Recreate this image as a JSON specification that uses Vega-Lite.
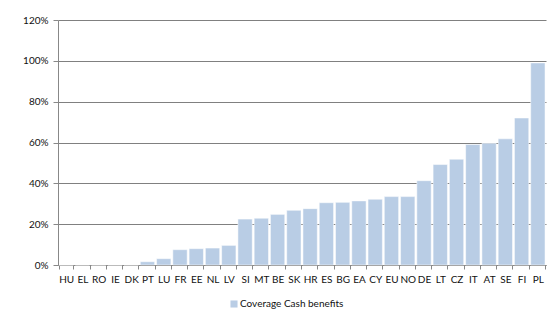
{
  "$schema": "https://vega.github.io/schema/vega-lite/v6.json",
  "width": 488,
  "height": 245,
  "autosize": {"type": "none"},
  "padding": {"left": 58, "top": 20, "right": 9, "bottom": 55},
  "background": "white",
  "data": {
    "values": [
      {"country": "HU", "value": 0},
      {"country": "EL", "value": 0},
      {"country": "RO", "value": 0},
      {"country": "IE", "value": 0},
      {"country": "DK", "value": 0},
      {"country": "PT", "value": 0.016},
      {"country": "LU", "value": 0.031},
      {"country": "FR", "value": 0.075},
      {"country": "EE", "value": 0.08},
      {"country": "NL", "value": 0.083},
      {"country": "LV", "value": 0.096},
      {"country": "SI", "value": 0.225},
      {"country": "MT", "value": 0.229},
      {"country": "BE", "value": 0.248},
      {"country": "SK", "value": 0.268},
      {"country": "HR", "value": 0.276},
      {"country": "ES", "value": 0.305},
      {"country": "BG", "value": 0.307},
      {"country": "EA", "value": 0.314},
      {"country": "CY", "value": 0.322},
      {"country": "EU", "value": 0.335},
      {"country": "NO", "value": 0.335},
      {"country": "DE", "value": 0.413},
      {"country": "LT", "value": 0.492},
      {"country": "CZ", "value": 0.518},
      {"country": "IT", "value": 0.59},
      {"country": "AT", "value": 0.596},
      {"country": "SE", "value": 0.618},
      {"country": "FI", "value": 0.72},
      {"country": "PL", "value": 0.99}
    ]
  },
  "transform": [{"calculate": "'Coverage Cash benefits'", "as": "series"}],
  "mark": {"type": "bar", "stroke": "white", "strokeWidth": 0.5},
  "encoding": {
    "x": {
      "field": "country",
      "type": "nominal",
      "sort": null,
      "scale": {"paddingInner": 0.12, "paddingOuter": 0.06},
      "axis": {
        "title": null,
        "labelAngle": 0,
        "tickBand": "extent",
        "domainColor": "#888888",
        "tickColor": "#888888",
        "tickSize": 4,
        "labelPadding": 5,
        "labelFont": "Lato",
        "labelFontSize": 10,
        "labelColor": "#111111"
      }
    },
    "y": {
      "field": "value",
      "type": "quantitative",
      "scale": {"domain": [0, 1.2]},
      "axis": {
        "title": null,
        "format": ".0%",
        "values": [0, 0.2, 0.4, 0.6, 0.8, 1.0, 1.2],
        "domainColor": "#888888",
        "tickColor": "#888888",
        "gridColor": "#808080",
        "tickSize": 5,
        "labelPadding": 5,
        "labelFont": "Lato",
        "labelFontSize": 10,
        "labelColor": "#111111"
      }
    },
    "color": {
      "field": "series",
      "type": "nominal",
      "scale": {"range": ["#B9CDE5"]},
      "legend": {
        "title": null,
        "orient": "none",
        "legendX": 171,
        "legendY": 279,
        "symbolType": "square",
        "symbolSize": 50,
        "symbolStrokeWidth": 0,
        "labelFont": "Lato",
        "labelFontSize": 10,
        "labelColor": "#111111",
        "labelOffset": 1
      }
    }
  },
  "config": {"view": {"stroke": null}}
}
